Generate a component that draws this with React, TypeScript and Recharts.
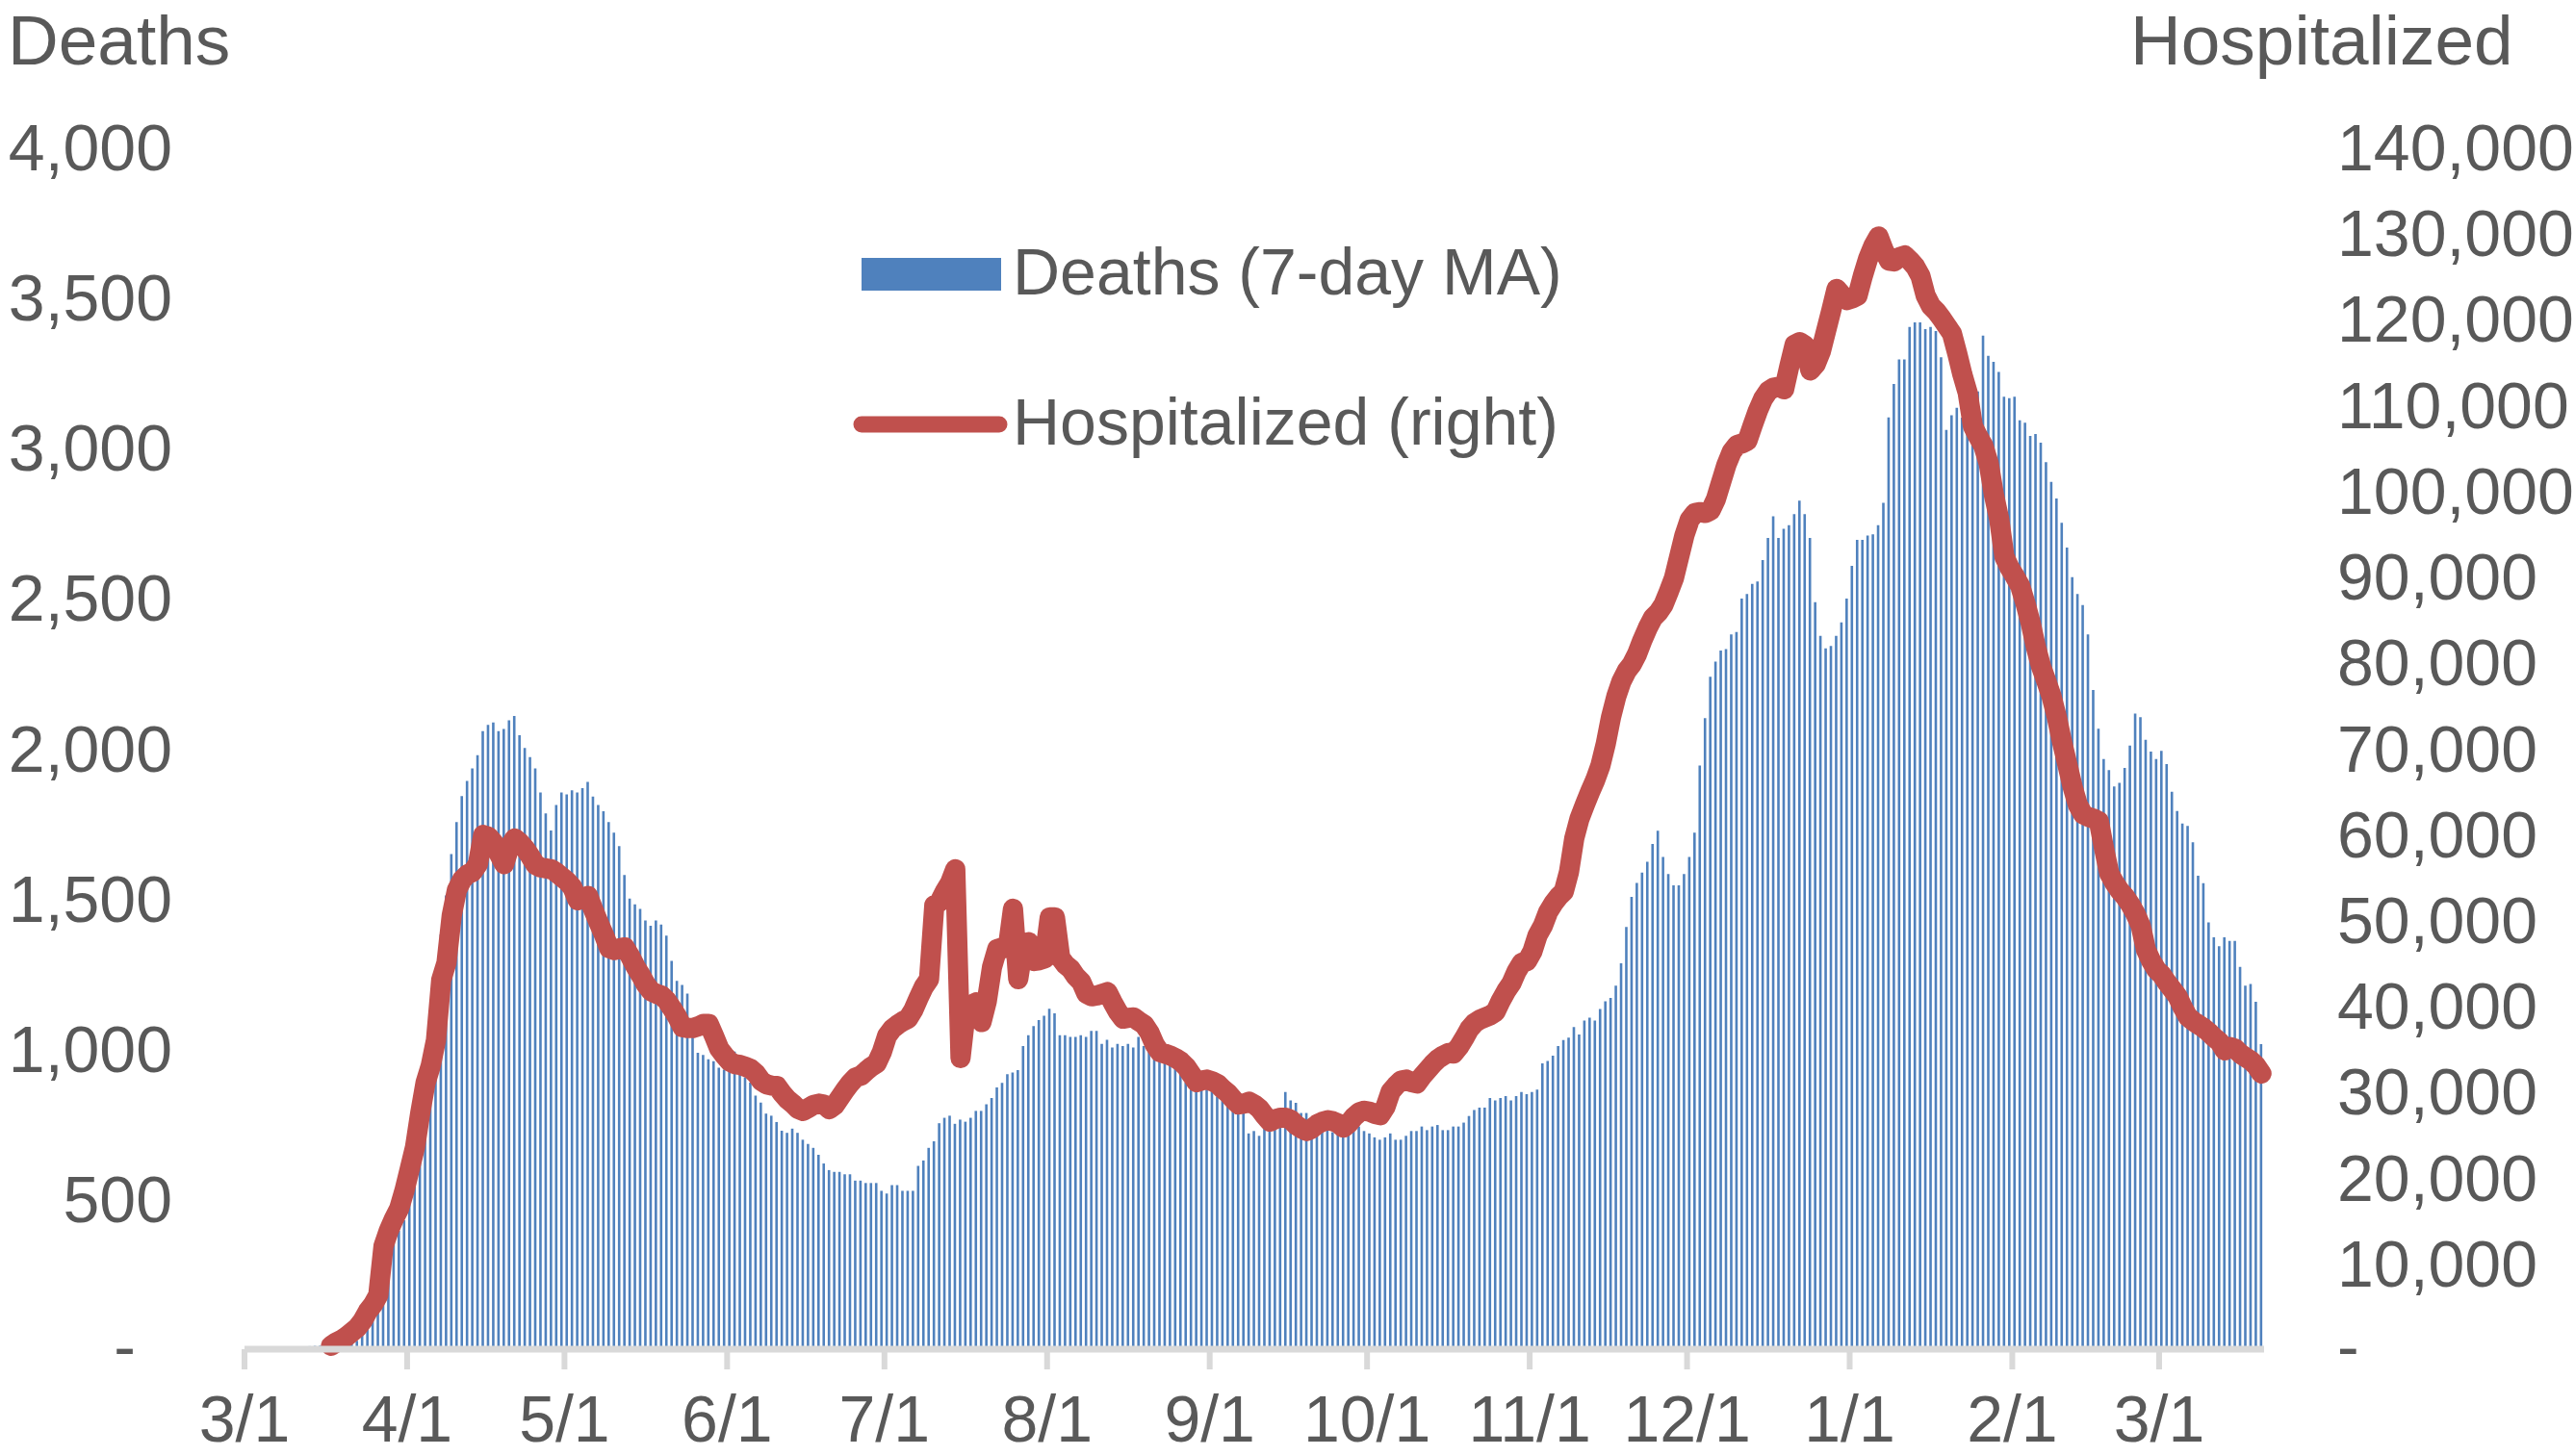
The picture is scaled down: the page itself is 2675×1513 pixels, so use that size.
import React from "react";
import { ComposedChart, Bar, Line, XAxis, YAxis, Legend } from "recharts";

const START_DATE = "2020-03-01";
const MONTH_STARTS = [
  "2020-03-01", "2020-04-01", "2020-05-01", "2020-06-01", "2020-07-01", "2020-08-01",
  "2020-09-01", "2020-10-01", "2020-11-01", "2020-12-01", "2021-01-01", "2021-02-01", "2021-03-01",
];

// Deaths, 7-day moving average, one value per day from 3/1/2020
const DEATHS = [
  1, 1, 2, 2, 3, 3, 4, 5, 6, 7,
  8, 9, 10, 11, 12, 14, 15, 17, 19, 22,
  25, 28, 56, 84, 112, 154, 211, 309, 352, 394,
  429, 493, 563, 800, 985, 1100, 1250, 1380, 1510, 1648,
  1754, 1841, 1891, 1933, 1977, 2057, 2078, 2086, 2057, 2064,
  2093, 2107, 2043, 2001, 1970, 1933, 1853, 1783, 1726, 1811,
  1853, 1846, 1860, 1853, 1867, 1888, 1839, 1811, 1790, 1754,
  1719, 1674, 1578, 1500, 1480, 1465, 1427, 1409, 1427, 1413,
  1376, 1292, 1226, 1212, 1183, 1100, 986, 979, 965, 958,
  937, 930, 944, 990, 930, 905, 887, 844, 821, 784,
  777, 756, 727, 720, 734, 720, 697, 683, 670, 647,
  618, 596, 590, 590, 582, 582, 561, 561, 553, 553,
  553, 527, 518, 546, 546, 527, 527, 527, 610, 628,
  670, 692, 752, 770, 777, 750, 764, 757, 770, 793,
  793, 815, 836, 871, 886, 915, 921, 929, 1009, 1045,
  1075, 1095, 1110, 1133, 1118, 1045, 1045, 1039, 1039, 1045,
  1039, 1059, 1059, 1016, 1030, 1004, 1016, 1009, 1016, 1004,
  1039, 1009, 990, 979, 967, 961, 945, 933, 921, 887,
  864, 864, 864, 864, 858, 841, 830, 807, 796, 796,
  789, 718, 726, 710, 741, 730, 730, 750, 856, 828,
  820, 786, 786, 741, 730, 730, 730, 722, 718, 710,
  718, 726, 741, 726, 718, 705, 697, 705, 718, 697,
  697, 710, 726, 726, 741, 729, 741, 746, 729, 729,
  741, 741, 754, 776, 796, 804, 804, 836, 828, 836,
  842, 828, 842, 856, 849, 856, 864, 951, 959, 977,
  1009, 1029, 1037, 1072, 1047, 1094, 1103, 1094, 1132, 1158,
  1169, 1210, 1284, 1405, 1505, 1552, 1586, 1622, 1681, 1725,
  1638, 1581, 1544, 1544, 1581, 1638, 1719, 1942, 2100, 2238,
  2288, 2325, 2330, 2379, 2387, 2498, 2513, 2547, 2555, 2626,
  2700, 2772, 2700, 2730, 2742, 2779, 2824, 2779, 2700, 2486,
  2374, 2332, 2340, 2374, 2419, 2498, 2607, 2693, 2693, 2708,
  2712, 2742, 2817, 3101, 3212, 3294, 3294, 3402, 3417, 3417,
  3395, 3402, 3388, 3301, 3059, 3108, 3133, 3100, 3059, 3059,
  3187, 3373, 3306, 3286, 3252, 3170, 3165, 3170, 3091, 3083,
  3039, 3046, 3017, 2952, 2886, 2831, 2750, 2668, 2569, 2513,
  2476, 2379, 2194, 2065, 1964, 1927, 1873, 1885, 1934, 2009,
  2115, 2103, 2028, 1989, 1964, 1991, 1947, 1855, 1791, 1749,
  1741, 1687, 1576, 1551, 1420, 1371, 1341, 1371, 1359, 1359,
  1272, 1210, 1215, 1156, 1015,
];

// Currently hospitalized, one value per day from 3/1/2020
const HOSPITALIZED = [
  null, null, null, null, null, null, null, null, null, null,
  null, null, null, null, null, null, 400, 800, 1100, 1500,
  2000, 2500, 3300, 4400, 5200, 6300, 12000, 13800, 15200, 16400,
  18500, 21000, 23500, 27500, 31000, 33000, 36000, 43000, 45000, 50500,
  53500, 54700, 55300, 55600, 56500, 59900, 59700, 59000, 57700, 56500,
  58500, 59500, 59000, 58300, 57400, 56400, 56100, 56000, 55900, 55500,
  55000, 54500, 53800, 52300, 52500, 52800, 51200, 49700, 48300, 46700,
  46500, 46700, 46800, 45800, 44600, 43600, 42500, 41700, 41400, 41200,
  40600, 39700, 38700, 37500, 37400, 37400, 37600, 37900, 37900, 36500,
  35000, 34200, 33500, 33200, 33100, 32900, 32650, 32100, 31250, 30850,
  30700, 30650, 29800, 29100, 28600, 28000, 27750, 28100, 28450, 28600,
  28500, 27950, 28400, 29300, 30200, 31000, 31650, 31850, 32400, 32900,
  33300, 34600, 36500, 37300, 37800, 38200, 38500, 39500, 40900, 42200,
  43100, 51700, 52100, 53300, 54300, 55900, 33900, 39300, 40100, 40400,
  38100, 40500, 44500, 46600, 46800, 46700, 51300, 43100, 47000, 47400,
  45200, 45300, 45500, 50300, 50300, 45600, 44800, 44300, 43400, 42800,
  41400, 41100, 41200, 41400, 41600, 40400, 39300, 38500, 38600, 38650,
  38200, 37800, 36900, 35500, 34600, 34400, 34200, 33900, 33500, 32900,
  32000, 31100, 31300, 31400, 31200, 30900, 30300, 29800, 29100, 28500,
  28600, 28820, 28500, 28000, 27200, 26500, 26800, 26950, 26950, 26700,
  26100, 25700, 25400, 25700, 26200, 26500, 26670, 26550, 26300, 25800,
  26300, 27060, 27600, 27780, 27650, 27400, 27250, 28200, 30000, 30700,
  31300, 31400, 31100, 30950, 31800, 32500, 33200, 33800, 34200, 34490,
  34450, 35200, 36200, 37300, 38000, 38400, 38650, 38900, 39300, 40600,
  41700, 42600, 44000, 45000, 45200, 46300, 48200, 49300, 50900, 51900,
  52700, 53300, 55600, 59500, 61800, 63400, 64900, 66300, 68000, 70500,
  73600, 76000, 77800, 79000, 79800, 81000, 82600, 84000, 85200, 85800,
  86700, 88200, 89800, 92300, 94800, 96600, 97400, 97500, 97400, 97700,
  99000, 101000, 103000, 104500, 105300, 105500, 105800, 107600, 109300, 110700,
  111600, 112000, 112100, 111800, 114500, 117000, 117300, 116900, 114000, 114700,
  116200, 118600, 121000, 123500, 122800, 122200, 122400, 122700, 125000, 127000,
  128500, 129600, 128000, 126800, 126700, 127200, 127400, 126800, 126100, 125000,
  122700, 121500, 120900, 120100, 119200, 118300, 116000, 113500, 111400, 107500,
  106300, 105200, 103200, 99500, 96700, 92300, 91000, 90000, 88900, 86900,
  84600, 81800, 79500, 77800, 76000, 73600, 70700, 68100, 65500, 63400,
  62300, 62000, 61800, 61500, 58300, 55400, 54300, 53400, 52700, 51800,
  50700, 49300, 46500, 45200, 44200, 43600, 42700, 41900, 41100, 39800,
  38700, 38200, 37800, 37400, 36900, 36300, 35800, 34800, 35200, 35000,
  34400, 34000, 33600, 33000, 32100,
];

const LEFT_TICKS = [0, 500, 1000, 1500, 2000, 2500, 3000, 3500, 4000];
const RIGHT_TICKS = [0, 10000, 20000, 30000, 40000, 50000, 60000, 70000, 80000, 90000, 100000, 110000, 120000, 130000, 140000];

const SERIES_NAMES = { deaths: "Deaths (7-day MA)", hosp: "Hospitalized (right)" };
const BAR_COLOR = "#4F81BD";
const LINE_COLOR = "#C0504D";
const TEXT = "#595959";
const AXIS_GRAY = "#D9D9D9";
const FONT = "'Liberation Sans', Arial, Helvetica, sans-serif";
const LINE_WIDTH = 21;

const W = 2675;
const H = 1513;
const PLOT_BOTTOM = 1402;

const DAY_MS = 86400000;
const startMs = Date.parse(START_DATE + "T00:00:00Z");
const dayIndex = (iso: string) => Math.round((Date.parse(iso + "T00:00:00Z") - startMs) / DAY_MS);
const MONTH_TICK_IDX = MONTH_STARTS.map(dayIndex);
const fmtDate = (idx: number) => {
  const dt = new Date(startMs + Math.round(idx) * DAY_MS);
  return `${dt.getUTCMonth() + 1}/${dt.getUTCDate()}`;
};
const fmtNum = (v: number) => v.toLocaleString("en-US");

const data = DEATHS.map((d, i) => ({ day: i + 0.5, deaths: d, hosp: HOSPITALIZED[i] }));
const N_DAYS = DEATHS.length;

const XTick = (props: any) => {
  const { x, payload } = props;
  return (
    <text x={x} y={PLOT_BOTTOM + 96} textAnchor="middle" fill={TEXT} fontSize={68} fontFamily={FONT}>
      {fmtDate(payload.value)}
    </text>
  );
};

const LeftTick = (props: any) => {
  const { y, payload } = props;
  if (payload.value === 0) {
    return (
      <text x={141} y={y + 21} textAnchor="end" fill={TEXT} fontSize={68} fontFamily={FONT}>-</text>
    );
  }
  return (
    <text x={179} y={y + 24} textAnchor="end" fill={TEXT} fontSize={68} fontFamily={FONT}>
      {fmtNum(payload.value)}
    </text>
  );
};

const RightTick = (props: any) => {
  const { y, payload } = props;
  const isZero = payload.value === 0;
  return (
    <text x={2428} y={y + (isZero ? 21 : 24)} textAnchor="start" fill={TEXT} fontSize={68} fontFamily={FONT}>
      {isZero ? "-" : fmtNum(payload.value)}
    </text>
  );
};

const titleContent = (text: string, x: number) => () => (
  <text x={x} y={67} textAnchor="start" fill={TEXT} fontSize={73} fontFamily={FONT}>{text}</text>
);

const renderLegend = (props: any) => {
  const payload: any[] = (props.payload || []).slice();
  payload.sort((a, b) => (a.type === "line" ? 1 : 0) - (b.type === "line" ? 1 : 0));
  return (
    <svg width={800} height={260} style={{ overflow: "visible", display: "block" }}>
      {payload.map((item, i) => {
        const isLine = item.type === "line";
        const rowY = i === 0 ? 0 : 156;
        return (
          <g key={i}>
            {isLine ? (
              <line x1={15} x2={158} y1={rowY + 55} y2={rowY + 55} stroke={item.color} strokeWidth={17} strokeLinecap="round" />
            ) : (
              <rect x={15} y={rowY + 38} width={145} height={34} fill={item.color} />
            )}
            <text x={172} y={rowY + 76} fill={TEXT} fontSize={68} fontFamily={FONT}>{item.value}</text>
          </g>
        );
      })}
    </svg>
  );
};

export default function App() {
  return (
    <div style={{ position: "absolute", left: 0, top: 0, width: W, height: H, background: "#ffffff" }}>
      <ComposedChart
        width={W}
        height={H}
        data={data}
        margin={{ top: 153, right: 223, bottom: 61, left: 154 }}
      >
        <Bar
          yAxisId="left"
          dataKey="deaths"
          name={SERIES_NAMES.deaths}
          fill={BAR_COLOR}
          barSize={2.6}
          legendType="rect"
          isAnimationActive={false}
        />
        <XAxis
          dataKey="day"
          type="number"
          domain={[0, N_DAYS]}
          ticks={MONTH_TICK_IDX}
          interval={0}
          height={50}
          tickSize={21}
          axisLine={{ stroke: AXIS_GRAY, strokeWidth: 7 }}
          tickLine={{ stroke: AXIS_GRAY, strokeWidth: 6 }}
          tick={<XTick />}
        />
        <YAxis
          yAxisId="left"
          orientation="left"
          domain={[0, 4000]}
          ticks={LEFT_TICKS}
          interval={0}
          width={100}
          axisLine={false}
          tickLine={false}
          tick={<LeftTick />}
          label={{ content: titleContent("Deaths", 8) }}
        />
        <YAxis
          yAxisId="right"
          orientation="right"
          domain={[0, 140000]}
          ticks={RIGHT_TICKS}
          interval={0}
          width={100}
          axisLine={false}
          tickLine={false}
          tick={<RightTick />}
          label={{ content: titleContent("Hospitalized", 2213) }}
        />
        <Line
          yAxisId="right"
          dataKey="hosp"
          name={SERIES_NAMES.hosp}
          type="linear"
          stroke={LINE_COLOR}
          strokeWidth={LINE_WIDTH}
          style={{ strokeWidth: LINE_WIDTH }}
          strokeLinecap="round"
          strokeLinejoin="round"
          dot={false}
          activeDot={false}
          legendType="line"
          connectNulls={false}
          isAnimationActive={false}
        />
        <Legend
          layout="vertical"
          align="center"
          verticalAlign="middle"
          content={renderLegend}
          wrapperStyle={{ left: 880, top: 230, width: 800, height: 260 }}
        />
      </ComposedChart>
    </div>
  );
}
